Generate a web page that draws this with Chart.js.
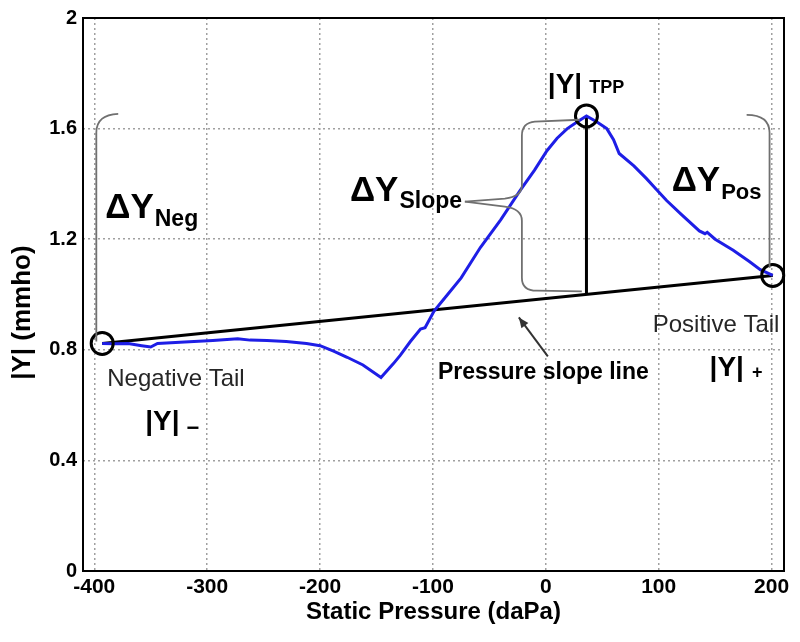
<!DOCTYPE html>
<html><head><meta charset="utf-8">
<script src="https://cdn.jsdelivr.net/npm/chart.js@4.4.1/dist/chart.umd.min.js"></script>
<style>html,body{margin:0;padding:0;background:#fff;}</style>
</head><body>
<canvas id="c" width="800" height="642"></canvas>
<script>
// ---- data ----
const xTicks = [-400, -300, -200, -100, 0, 100, 200];
const yTicks = [0, 0.4, 0.8, 1.2, 1.6, 2];
const curveX = [-393, -383, -370, -358, -350, -344, -320, -295, -273, -262, -247, -230, -212, -200, -188, -176, -162, -146, -135, -129, -120, -111, -107, -99, -87, -75, -58, -40, -23, -10, 1, 10, 19, 28, 36, 45, 54, 60, 65, 78, 89, 98, 107, 120, 136, 141, 143, 150, 166, 180, 190, 201];
const curveY = [0.823, 0.822, 0.823, 0.815, 0.81, 0.823, 0.828, 0.834, 0.84, 0.835, 0.834, 0.83, 0.823, 0.815, 0.795, 0.773, 0.745, 0.70, 0.75, 0.78, 0.83, 0.875, 0.88, 0.94, 1.0, 1.06, 1.17, 1.27, 1.375, 1.45, 1.52, 1.565, 1.60, 1.625, 1.646, 1.625, 1.60, 1.56, 1.51, 1.465, 1.42, 1.38, 1.34, 1.29, 1.23, 1.22, 1.225, 1.2, 1.16, 1.12, 1.09, 1.069];
const slopeX = [-393, 201];
const slopeY = [0.823, 1.069];
const tppX = [36, 36];
const tppY = [1.0, 1.646];
const markerX = [-393, 36, 201];
const markerY = [0.823, 1.646, 1.069];

// bracket paths (data coordinates)
const bracketNeg = [['M', -398.2, 0.83], ['L', -398.2, 1.585], ['Q', -398.2, 1.65, -378.8, 1.653]];
const bracketPos = [['M', 177.9, 1.650], ['Q', 198.2, 1.650, 198.2, 1.585], ['L', 198.2, 1.097]];
const bracketSlopeTop = [['M', 30.1, 1.632], ['L', -9.7, 1.625], ['Q', -21.2, 1.621, -21.2, 1.574], ['L', -21.2, 1.394], ['Q', -21.2, 1.354, -36.3, 1.347], ['L', -71.7, 1.336]];
const bracketSlopeBot = [['M', -71.7, 1.336], ['L', -36.3, 1.318], ['Q', -21.2, 1.31, -21.2, 1.267], ['L', -21.2, 1.061], ['Q', -21.2, 1.014, -8.0, 1.014], ['L', 31.9, 1.011]];
const arrowFrom = [1.8, 0.776];
const arrowTo = [-23.9, 0.917];

const F = '"Liberation Sans", Arial, sans-serif';
const textItems = [
  {x: -390.3, y: 1.278, parts: [{t: 'ΔY', f: 'bold 35px ' + F}, {t: 'Neg', f: 'bold 23px ' + F, dy: 8, dx: 1}]},
  {x: -173.5, y: 1.339, parts: [{t: 'ΔY', f: 'bold 35px ' + F}, {t: 'Slope', f: 'bold 23px ' + F, dy: 7, dx: 1}]},
  {x: 111.5, y: 1.375, parts: [{t: 'ΔY', f: 'bold 35px ' + F}, {t: 'Pos', f: 'bold 22px ' + F, dy: 8, dx: 1}]},
  {x: 1.8, y: 1.729, parts: [{t: '|Y|', f: 'bold 28px ' + F}, {t: 'TPP', f: 'bold 18px ' + F, dx: 7}]},
  {x: -388.5, y: 0.668, color: '#262626', parts: [{t: 'Negative Tail', f: '24px ' + F}]},
  {x: -354.9, y: 0.509, parts: [{t: '|Y|', f: 'bold 28px ' + F}, {t: '−', f: 'bold 22px ' + F, dx: 7, dy: 5}]},
  {x: 94.7, y: 0.866, color: '#262626', parts: [{t: 'Positive Tail', f: '24px ' + F}]},
  {x: 145.1, y: 0.704, parts: [{t: '|Y|', f: 'bold 28px ' + F}, {t: '+', f: 'bold 18px ' + F, dx: 8, dy: 2}]},
  {x: -95.6, y: 0.693, parts: [{t: 'Pressure slope line', f: 'bold 23px ' + F}]}
];

const zip = (xs, ys) => xs.map((x, i) => ({x: x, y: ys[i]}));

const annot = {
  id: 'annot',
  afterDatasetsDraw(chart) {
    const ctx = chart.ctx, xs = chart.scales.x, ys = chart.scales.y;
    const X = v => xs.getPixelForValue(v), Y = v => ys.getPixelForValue(v);
    ctx.save();
    ctx.strokeStyle = '#707070'; ctx.lineWidth = 1.8; ctx.lineJoin = 'round';
    [bracketNeg, bracketPos, bracketSlopeTop, bracketSlopeBot].forEach(path => {
      ctx.beginPath();
      path.forEach(c => {
        if (c[0] === 'M') ctx.moveTo(X(c[1]), Y(c[2]));
        else if (c[0] === 'L') ctx.lineTo(X(c[1]), Y(c[2]));
        else ctx.quadraticCurveTo(X(c[1]), Y(c[2]), X(c[3]), Y(c[4]));
      });
      ctx.stroke();
    });
    const ax0 = X(arrowFrom[0]), ay0 = Y(arrowFrom[1]), ax1 = X(arrowTo[0]), ay1 = Y(arrowTo[1]);
    ctx.strokeStyle = '#333'; ctx.fillStyle = '#333'; ctx.lineWidth = 2;
    ctx.beginPath(); ctx.moveTo(ax0, ay0); ctx.lineTo(ax1, ay1); ctx.stroke();
    const ang = Math.atan2(ay1 - ay0, ax1 - ax0), L = 11, W = 0.4;
    ctx.beginPath(); ctx.moveTo(ax1, ay1);
    ctx.lineTo(ax1 - L * Math.cos(ang - W), ay1 - L * Math.sin(ang - W));
    ctx.lineTo(ax1 - L * Math.cos(ang + W), ay1 - L * Math.sin(ang + W));
    ctx.closePath(); ctx.fill();
    ctx.textBaseline = 'alphabetic'; ctx.textAlign = 'left';
    textItems.forEach(it => {
      let px = X(it.x); const py = Y(it.y);
      it.parts.forEach(p => {
        ctx.font = p.f; ctx.fillStyle = p.color || it.color || '#000';
        px += (p.dx || 0);
        ctx.fillText(p.t, px, py + (p.dy || 0));
        px += ctx.measureText(p.t).width;
      });
    });
    ctx.restore();
  },
  afterDraw(chart) {
    const {left, top, right, bottom} = chart.chartArea, ctx = chart.ctx;
    ctx.save(); ctx.strokeStyle = '#000'; ctx.lineWidth = 2;
    ctx.strokeRect(left, top, right - left, bottom - top);
    ctx.restore();
  }
};

new Chart(document.getElementById('c'), {
  type: 'scatter',
  data: {
    datasets: [
      {data: zip(markerX, markerY), showLine: false, pointRadius: 11, pointHoverRadius: 11, pointBorderWidth: 3, pointBorderColor: '#000', pointBackgroundColor: 'rgba(0,0,0,0)', order: 0, clip: false},
      {data: zip(curveX, curveY), showLine: true, borderColor: '#1e1ee6', borderWidth: 3, pointRadius: 0, tension: 0, order: 1},
      {data: zip(tppX, tppY), showLine: true, borderColor: '#000', borderWidth: 3, pointRadius: 0, order: 2},
      {data: zip(slopeX, slopeY), showLine: true, borderColor: '#000', borderWidth: 3, pointRadius: 0, order: 3}
    ]
  },
  options: {
    responsive: false, animation: false, devicePixelRatio: 1,
    layout: {padding: {top: 17, right: 16, bottom: 0, left: 0}},
    plugins: {legend: {display: false}, tooltip: {enabled: false}},
    scales: {
      x: {
        type: 'linear', min: -410, max: 211,
        afterBuildTicks: s => { s.ticks = xTicks.map(v => ({value: v})); },
        afterFit: s => { s.height = 71; },
        grid: {color: '#a0a0a0', lineWidth: 1.5, drawTicks: false},
        border: {display: false, dash: [2, 3]},
        ticks: {padding: 4, color: '#000', font: {family: F, size: 21, weight: 'bold'}, callback: v => String(v), maxRotation: 0, autoSkip: false},
        title: {display: true, text: 'Static Pressure (daPa)', color: '#000', font: {family: F, size: 24, weight: 'bold'}, padding: {top: 0, bottom: 15}}
      },
      y: {
        type: 'linear', min: 0, max: 2,
        afterBuildTicks: s => { s.ticks = yTicks.map(v => ({value: v})); },
        afterFit: s => { s.width = 83; },
        grid: {color: '#a0a0a0', lineWidth: 1.5, drawTicks: false},
        border: {display: false, dash: [2, 3]},
        ticks: {padding: 6, color: '#000', font: {family: F, size: 20, weight: 'bold'}, callback: v => String(v), autoSkip: false},
        title: {display: true, text: '|Y| (mmho)     ', color: '#000', font: {family: F, size: 26, weight: 'bold'}, padding: {top: 7, bottom: 0}}
      }
    }
  },
  plugins: [annot]
});
</script>
</body></html>
